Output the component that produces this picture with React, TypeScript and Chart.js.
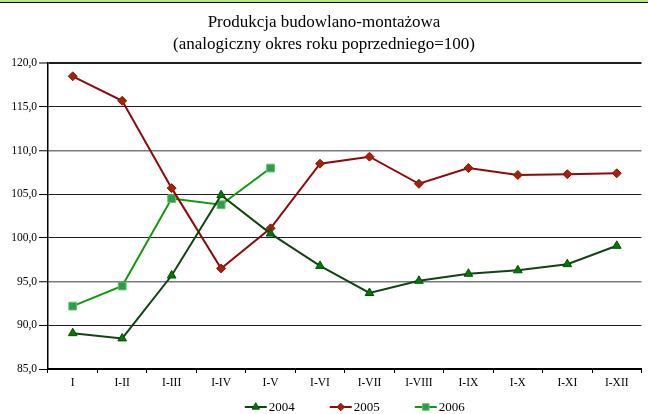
import React, { useEffect, useRef } from 'react';
import { Chart, registerables } from 'chart.js';
import { drawPoint } from 'chart.js/helpers';

Chart.register(...registerables);

const categories = ['I', 'I-II', 'I-III', 'I-IV', 'I-V', 'I-VI', 'I-VII', 'I-VIII', 'I-IX', 'I-X', 'I-XI', 'I-XII'];
const values2004 = [89.1, 88.5, 95.7, 104.9, 100.5, 96.8, 93.7, 95.1, 95.9, 96.3, 97.0, 99.1];
const values2005 = [118.5, 115.7, 105.7, 96.5, 101.1, 108.5, 109.3, 106.2, 108.0, 107.2, 107.3, 107.4];
const values2006 = [92.2, 94.5, 104.5, 103.8, 108.0, null, null, null, null, null, null, null];
const seriesNames = ['2004', '2005', '2006'];
const titleLines = ['Produkcja budowlano-montażowa', '(analogiczny okres roku poprzedniego=100)'];
const yMin = 85;
const yMax = 120;
const yStep = 5;

const SERIF = '"Liberation Serif", "Times New Roman", serif';

const legendPlugin = {
  id: 'lineLegend',
  afterDraw(chart: any) {
    const ctx = chart.ctx as CanvasRenderingContext2D;
    const y = chart.height - 7;
    const lineW = 22;
    const gapText = 2;
    const gapItem = 35;
    ctx.save();
    ctx.font = `13px ${SERIF}`;
    const items = chart.data.datasets.map((ds: any) => {
      const tw = ctx.measureText(ds.label).width;
      return { ds, tw, w: lineW + gapText + tw };
    });
    const total = items.reduce((s: number, it: any) => s + it.w, 0) + gapItem * (items.length - 1);
    const center = (chart.chartArea.left + chart.chartArea.right) / 2 + 10;
    let x = center - total / 2;
    items.forEach((it: any) => {
      const ds = it.ds;
      ctx.strokeStyle = ds.borderColor;
      ctx.lineWidth = ds.borderWidth;
      ctx.beginPath();
      ctx.moveTo(x, y);
      ctx.lineTo(x + lineW, y);
      ctx.stroke();
      ctx.fillStyle = ds.pointBackgroundColor;
      ctx.strokeStyle = ds.pointBorderColor;
      ctx.lineWidth = ds.pointBorderWidth;
      drawPoint(ctx, { pointStyle: ds.pointStyle, rotation: 0, radius: ds.pointRadius * 0.85, borderWidth: ds.pointBorderWidth }, x + lineW / 2, y);
      ctx.fillStyle = '#000';
      ctx.textAlign = 'left';
      ctx.textBaseline = 'middle';
      ctx.fillText(ds.label, x + lineW + gapText, y + 1);
      x += it.w + gapItem;
    });
    ctx.restore();
  },
};

export default function App() {
  const canvasRef = useRef<HTMLCanvasElement | null>(null);

  useEffect(() => {
    const canvas = canvasRef.current;
    if (!canvas) return;
    const chart = new Chart(canvas, {
      type: 'line',
      data: {
        labels: categories,
        datasets: [
          {
            label: seriesNames[0],
            data: values2004,
            borderColor: '#124412',
            borderWidth: 2,
            pointStyle: 'triangle',
            pointRadius: 5,
            pointBackgroundColor: '#007a00',
            pointBorderColor: '#0a4a0a',
            pointBorderWidth: 1,
            tension: 0,
          },
          {
            label: seriesNames[1],
            data: values2005,
            borderColor: '#8e0a0a',
            borderWidth: 2,
            pointStyle: 'rectRot',
            pointRadius: 4.5,
            pointBackgroundColor: '#a3220a',
            pointBorderColor: '#8a1a06',
            pointBorderWidth: 1,
            tension: 0,
          },
          {
            label: seriesNames[2],
            data: values2006,
            borderColor: '#0e9a0e',
            borderWidth: 2,
            pointStyle: 'rect',
            pointRadius: 5.5,
            pointBackgroundColor: '#2f9a50',
            pointBorderColor: '#5cc85c',
            pointBorderWidth: 1,
            tension: 0,
            spanGaps: false,
          },
        ],
      },
      options: {
        animation: false,
        responsive: false,
        maintainAspectRatio: false,
        devicePixelRatio: 1,
        layout: { padding: { left: 0, right: 0, top: 0, bottom: 24 } },
        plugins: {
          legend: { display: false },
          tooltip: { enabled: false },
          title: {
            display: true,
            text: titleLines,
            color: '#000',
            font: { family: SERIF, size: 17, weight: 'normal', lineHeight: 1.3 },
            padding: { top: 11, bottom: 8 },
          },
        },
        scales: {
          x: {
            type: 'category',
            offset: true,
            grid: {
              display: true,
              offset: true,
              drawOnChartArea: false,
              drawTicks: true,
              tickLength: 4,
              tickColor: '#000',
              tickWidth: 1,
            },
            border: { display: true, color: '#000', width: 2 },
            ticks: {
              color: '#000',
              font: { family: SERIF, size: 11.5 },
              padding: 3,
              maxRotation: 0,
              autoSkip: false,
            },
            afterFit(scale: any) {
              scale.height = 21;
            },
          },
          y: {
            min: yMin,
            max: yMax,
            grid: {
              color: (c: any) => {
                const v = c.tick && c.tick.value;
                if (v === 110 || v === 95) return '#7a7a7a';
                return '#1e1e1e';
              },
              lineWidth: (c: any) => {
                const v = c.tick && c.tick.value;
                if (v === yMax) return 2;
                if (v === 110 || v === 95) return 1.5;
                return 1;
              },
              tickLength: 9,
              tickColor: '#000',
              tickWidth: 1,
            },
            border: { display: true, color: '#000', width: 1.5 },
            ticks: {
              stepSize: yStep,
              color: '#000',
              padding: 2,
              font: { family: SERIF, size: 11.5 },
              callback: (v: any) => Number(v).toFixed(1).replace('.', ','),
            },
            afterFit(scale: any) {
              scale.width = 48;
            },
          },
        },
      },
      plugins: [legendPlugin],
    });
    return () => chart.destroy();
  }, []);

  return (
    <div style={{ position: 'fixed', left: 0, top: 0, width: 648, height: 414, background: '#fff', overflow: 'hidden' }}>
      <div style={{ position: 'absolute', left: 0, top: 0, width: 648, height: 2, background: '#b4ee7c' }} />
      <div style={{ position: 'absolute', left: 0, top: 2, width: 648, height: 1, background: '#000' }} />
      <canvas ref={canvasRef} width={648} height={414} style={{ display: 'block', width: 648, height: 414 }} />
    </div>
  );
}
